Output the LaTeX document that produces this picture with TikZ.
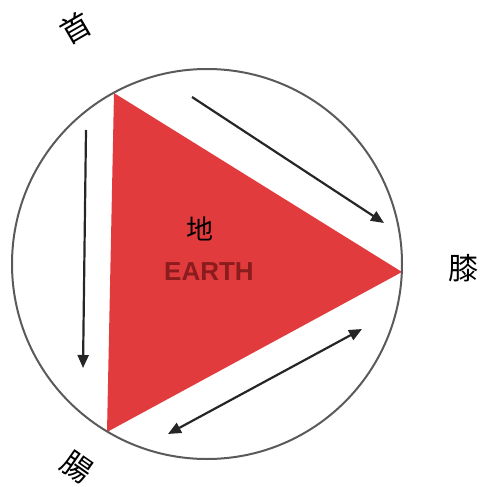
\documentclass[tikz,border=0pt]{standalone}
\usepackage{fontspec}
\setmainfont{Liberation Sans}
\newfontfamily\cjk{Noto Sans CJK SC}
\usetikzlibrary{arrows.meta}
\definecolor{earthred}{HTML}{E23B3E}
\definecolor{earthtext}{HTML}{8A1C1E}
\definecolor{ringgray}{HTML}{5A5A5A}
\tikzset{
  ring/.style={draw=ringgray,line width=2pt},
  flow/.style={draw=black!85,line width=2.2pt,-{Triangle[length=13pt,width=11pt]}},
  flowboth/.style={draw=black!85,line width=2.2pt,{Triangle[length=13pt,width=11pt]}-{Triangle[length=13pt,width=11pt]}},
  cjklabel/.style={font=\cjk\fontsize{30}{30}\selectfont,inner sep=0pt},
}
\begin{document}
\begin{tikzpicture}[x=1pt,y=-1pt]
\useasboundingbox (0,0) rectangle (481,487);
% triangle vertices
\coordinate (A) at (114,93);
\coordinate (B) at (107,432);
\coordinate (C) at (402,272);
\coordinate (O) at (207,264);
\fill[earthred] (A) -- (C) -- (B) -- cycle;
\draw[ring] (O) circle[radius=195pt];
% text
\node[font=\cjk\fontsize{27}{27}\selectfont,inner sep=0pt] (di) at (200,229) {地};
\node[font=\bfseries\fontsize{26}{26}\selectfont,text=earthtext,inner sep=0pt] (earth) at (209,272) {EARTH};
\node[cjklabel,rotate=30] (shou) at (76,28) {首};
\node[cjklabel] (xi) at (463,268) {膝};
\node[cjklabel,rotate=-35] (chang) at (77,467) {腸};
% arrows
\coordinate (l1) at (86,130);
\coordinate (l2) at (83,368);
\coordinate (t1) at (192,97);
\coordinate (t2) at (384,223);
\coordinate (b1) at (168,434);
\coordinate (b2) at (362,329);
\draw[flow] (l1) -- (l2);
\draw[flow] (t1) -- (t2);
\draw[flowboth] (b1) -- (b2);
\end{tikzpicture}
\end{document}
